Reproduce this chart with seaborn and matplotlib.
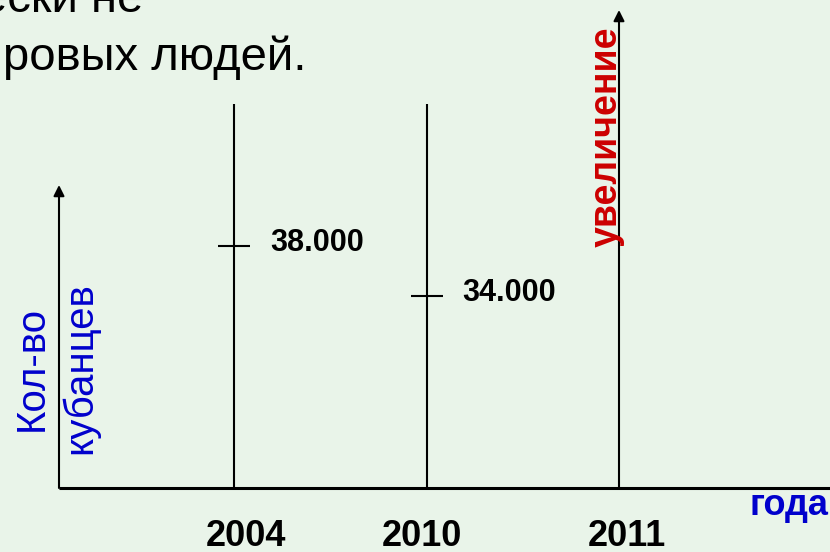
import matplotlib
matplotlib.use("Agg")
import matplotlib.pyplot as plt
import seaborn as sns
import pandas as pd

# ---- data ----
years = ["2004", "2010", "2011"]
counts = [38000, 34000]              # known values for 2004 and 2010
count_labels = ["38.000", "34.000"]
trend_label = "увеличение"
y_title = "Кол-во\nкубанцев"
x_title = "года"
top_line1 = "ески не"
top_line2 = "ровых людей."

# ---- style ----
BG = "#E9F4E9"
BLUE = "#0000CC"
RED = "#CC0000"
sns.set_theme(style="white", rc={"figure.facecolor": BG, "axes.facecolor": BG})
plt.rcParams["font.family"] = ["Liberation Sans", "DejaVu Sans"]

W, H, DPI = 830, 552, 100
fig = plt.figure(figsize=(W / DPI, H / DPI), dpi=DPI)

axis_y_px = 488
ax = fig.add_axes([0, (H - axis_y_px) / H, 1, axis_y_px / H])
ax.set_facecolor(BG)

pos = list(range(len(years)))
px_per_cat = 192.5
ymin, ymax = 18640, 57680
lw = 1.5

# tick marks at values
df = pd.DataFrame({"x": pos[:2], "y": counts})
sns.scatterplot(data=df, x="x", y="y", marker="_", s=500, color="black",
                linewidth=lw, ax=ax, zorder=3, legend=False)
ax.set_xlabel("")
ax.set_ylabel("")

xlo = -234 / px_per_cat
xhi = len(years) - 1 + 211 / px_per_cat
ax.set_xlim(xlo, xhi)
ax.set_ylim(ymin, ymax)
ax.set_autoscale_on(False)
ax.set_xticks([])
ax.set_yticks([])
for s in ax.spines:
    ax.spines[s].set_visible(False)

x_axis = -175 / px_per_cat   # position of the vertical (count) axis
# horizontal axis
ax.hlines(ymin, x_axis, xhi, color="black", lw=2.2, clip_on=False)

line_tops = [49360, 49360]
# vertical year lines (2004, 2010)
ax.vlines(pos[:2], ymin, line_tops, color="black", lw=lw)
# 2011 arrow
ax.annotate("", xy=(pos[2], 56880), xytext=(pos[2], ymin),
            arrowprops=dict(arrowstyle="-|>", color="black", lw=lw,
                            mutation_scale=16, shrinkA=0, shrinkB=0))
# y axis arrow
ax.annotate("", xy=(x_axis, 42880), xytext=(x_axis, ymin),
            arrowprops=dict(arrowstyle="-|>", color="black", lw=lw,
                            mutation_scale=16, shrinkA=0, shrinkB=0))

for p, v, lab in zip(pos[:2], counts, count_labels):
    ax.annotate(lab, xy=(p, v), xytext=(36, 3), textcoords="offset pixels",
                ha="left", va="center", fontsize=22, fontweight="bold", color="black")

# year labels below the axis
year_dx = [12, -5, 8]
for p, yr, dx in zip(pos, years, year_dx):
    ax.annotate(yr, xy=(p, ymin), xytext=(dx, -48), textcoords="offset pixels",
                ha="center", va="center", fontsize=26, fontweight="bold",
                color="black", annotation_clip=False)

# trend label
ax.annotate(trend_label, xy=(pos[2], ymin), xytext=(-12, 351), textcoords="offset pixels",
            rotation=90, ha="center", va="center", fontsize=27, fontweight="bold",
            color=RED)

def fx(x):
    return x / W

def fy(y):
    return 1 - y / H

fig.text(fx(56), fy(368), y_title, rotation=90, ha="center", va="center",
         multialignment="center", fontsize=29, color=BLUE, linespacing=1.32)
fig.text(fx(828), fy(515), x_title, ha="right", va="baseline", fontsize=26,
         fontweight="bold", color=BLUE)
fig.text(fx(143), fy(12), top_line1, ha="right", va="baseline", fontsize=34, color="black")
fig.text(fx(3), fy(70), top_line2, ha="left", va="baseline", fontsize=34, color="black")

fig.savefig("out.png", dpi=DPI, facecolor=BG)
